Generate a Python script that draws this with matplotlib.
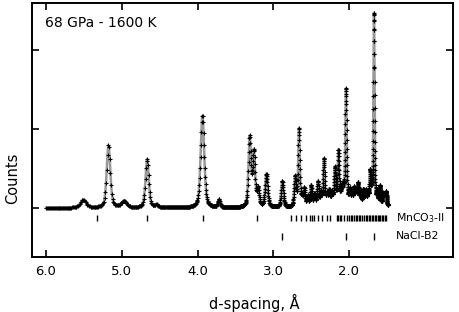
import numpy as np
import matplotlib
matplotlib.use("Agg")
import matplotlib.pyplot as plt

# === 数据 ===
# observed peaks: d-spacing (Å), height (tick units above baseline), FWHM (Å)
peak_d = [5.51, 5.175, 4.97, 4.665, 4.54, 3.935, 3.716,
          3.31, 3.255, 3.20, 3.09, 2.88, 2.71, 2.66, 2.59, 2.50, 2.41,
          2.33, 2.26, 2.185, 2.14, 2.04, 1.99, 1.93, 1.88, 1.81, 1.72,
          1.67, 1.59, 1.51, 2.0,
          2.62, 2.545, 2.455, 2.37, 2.29, 2.225, 2.10, 2.075, 1.96, 1.905,
          1.85, 1.78, 1.75, 1.695, 1.625, 1.55, 1.53]
peak_h = [0.10, 0.80, 0.08, 0.62, 0.03, 1.17, 0.10,
          0.88, 0.68, 0.22, 0.42, 0.33, 0.37, 0.98, 0.22, 0.26, 0.30,
          0.58, 0.17, 0.44, 0.65, 1.43, 0.15, 0.18, 0.24, 0.17, 0.40,
          2.42, 0.24, 0.17, 0.06,
          0.10, 0.12, 0.14, 0.16, 0.12, 0.14, 0.16, 0.18, 0.12, 0.14,
          0.15, 0.16, 0.14, 0.15, 0.14, 0.13, 0.12]
peak_w = [0.09, 0.055, 0.09, 0.05, 0.06, 0.055, 0.035,
          0.04, 0.035, 0.035, 0.04, 0.035, 0.03, 0.025, 0.025, 0.025, 0.025,
          0.024, 0.024, 0.024, 0.024, 0.022, 0.02, 0.02, 0.02, 0.02, 0.02,
          0.018, 0.02, 0.02, 0.6,
          0.025, 0.025, 0.025, 0.024, 0.024, 0.024, 0.022, 0.022, 0.02, 0.02,
          0.02, 0.02, 0.02, 0.018, 0.02, 0.02, 0.02]

# reflection positions
mnco3_ticks = [5.33, 4.67, 3.93, 3.21, 2.76, 2.70, 2.635, 2.57, 2.52, 2.485,
               2.46, 2.41, 2.35, 2.29, 2.25, 2.16, 2.14, 2.12, 2.10, 2.066,
               2.03, 2.00, 1.975, 1.955, 1.93, 1.91, 1.89, 1.87, 1.85, 1.83,
               1.80, 1.78, 1.765, 1.74, 1.72, 1.70, 1.685, 1.66, 1.64, 1.62,
               1.60, 1.585, 1.56, 1.545, 1.53, 1.51]
nacl_ticks = [2.88, 2.04, 1.67]

d_min, d_max, n_pts = 1.485, 6.0, 1400

# === 构造谱图 ===
q = np.linspace(1 / d_max, 1 / d_min, n_pts)
d = 1 / q
y = np.zeros_like(d)
for c, h, w in zip(peak_d, peak_h, peak_w):
    x = (d - c) / (w / 2)
    lor = 1 / (1 + x ** 2)
    gau = np.exp(-np.log(2) * x ** 2)
    y += h * (0.5 * lor + 0.5 * gau)

# === 绘图 ===
fig = plt.figure(figsize=(4.59, 3.12), dpi=100)
ax = fig.add_axes([32 / 459, 1 - 257 / 312, 421 / 459, 254 / 312])

ax.plot(d, y, color="#9a9a9a", lw=1.8, zorder=2)
ax.plot(d, y, ls="none", marker="+", ms=3.4, mew=0.8, color="black", zorder=3)

ax.vlines(mnco3_ticks, -0.165, -0.09, color="black", lw=1.0)
ax.vlines(nacl_ticks, -0.40, -0.31, color="black", lw=1.0)
ax.text(1.38, -0.128, "MnCO$_3$-II", fontsize=7.8, va="center", ha="left")
ax.text(1.38, -0.355, "NaCl-B2", fontsize=7.8, va="center", ha="left")

ax.text(0.031, 0.922, "68 GPa - 1600 K", transform=ax.transAxes,
        fontsize=10, va="center", ha="left")

ax.set_xlim(6.185, 0.627)
ax.set_ylim(-0.62, 2.595)
ax.set_xticks([6.0, 5.0, 4.0, 3.0, 2.0])
ax.set_xticklabels(["6.0", "5.0", "4.0", "3.0", "2.0"])
ax.set_yticks([0, 1, 2])
ax.set_yticklabels([])
ax.tick_params(direction="in", length=5, width=1.2, top=True, right=True,
               labelsize=9.5, pad=6)
for s in ax.spines.values():
    s.set_linewidth(1.4)

ax.set_xlabel("d-spacing, Å", fontsize=10.5)
ax.xaxis.set_label_coords(0.527, -0.146)
ax.set_ylabel("Counts", fontsize=10.5)
ax.yaxis.set_label_coords(-0.028, 0.31)

fig.savefig("out.png", dpi=100)
